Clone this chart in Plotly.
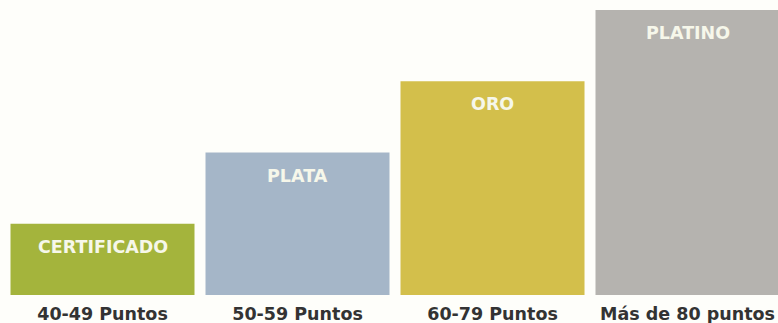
import plotly.graph_objects as go

categories = ["40-49 Puntos", "50-59 Puntos", "60-79 Puntos", "Más de 80 puntos"]
levels = ["CERTIFICADO", "PLATA", "ORO", "PLATINO"]
values = [1, 2, 3, 4]
colors = ["#A4B43C", "#A5B6C8", "#D3BF4B", "#B5B3AF"]

fig = go.Figure()
fig.add_trace(go.Bar(
    x=categories, y=values,
    marker=dict(color=colors, line=dict(width=0)),
    hoverinfo="skip",
))

for c, v, lab in zip(categories, values, levels):
    fig.add_annotation(
        x=c, y=v, text=lab, showarrow=False,
        xanchor="center", yanchor="top", yshift=-11,
        font=dict(family="DejaVu Sans", size=17.5, color="#F6F7EA", weight="bold"),
    )

fig.update_layout(
    width=778, height=323,
    margin=dict(l=5, r=0, t=10, b=28),
    paper_bgcolor="#FEFEFA", plot_bgcolor="#FEFEFA",
    bargap=0.0564,
    showlegend=False,
    xaxis=dict(
        range=[-0.5, 3.464], showgrid=False, zeroline=False, showline=False,
        ticks="", fixedrange=True, ticklabelstandoff=6,
        tickfont=dict(family="DejaVu Sans", size=17.5, color="#333333", weight="bold"),
    ),
    yaxis=dict(range=[0, 4], visible=False, fixedrange=True),
)

fig.write_html(
    "out.html",
    config={"displayModeBar": False},
    post_script="document.body.style.margin='0';document.body.style.padding='0';"
                "document.body.style.background='#FEFEFA';"
                "document.body.style.overflow='hidden';",
)
